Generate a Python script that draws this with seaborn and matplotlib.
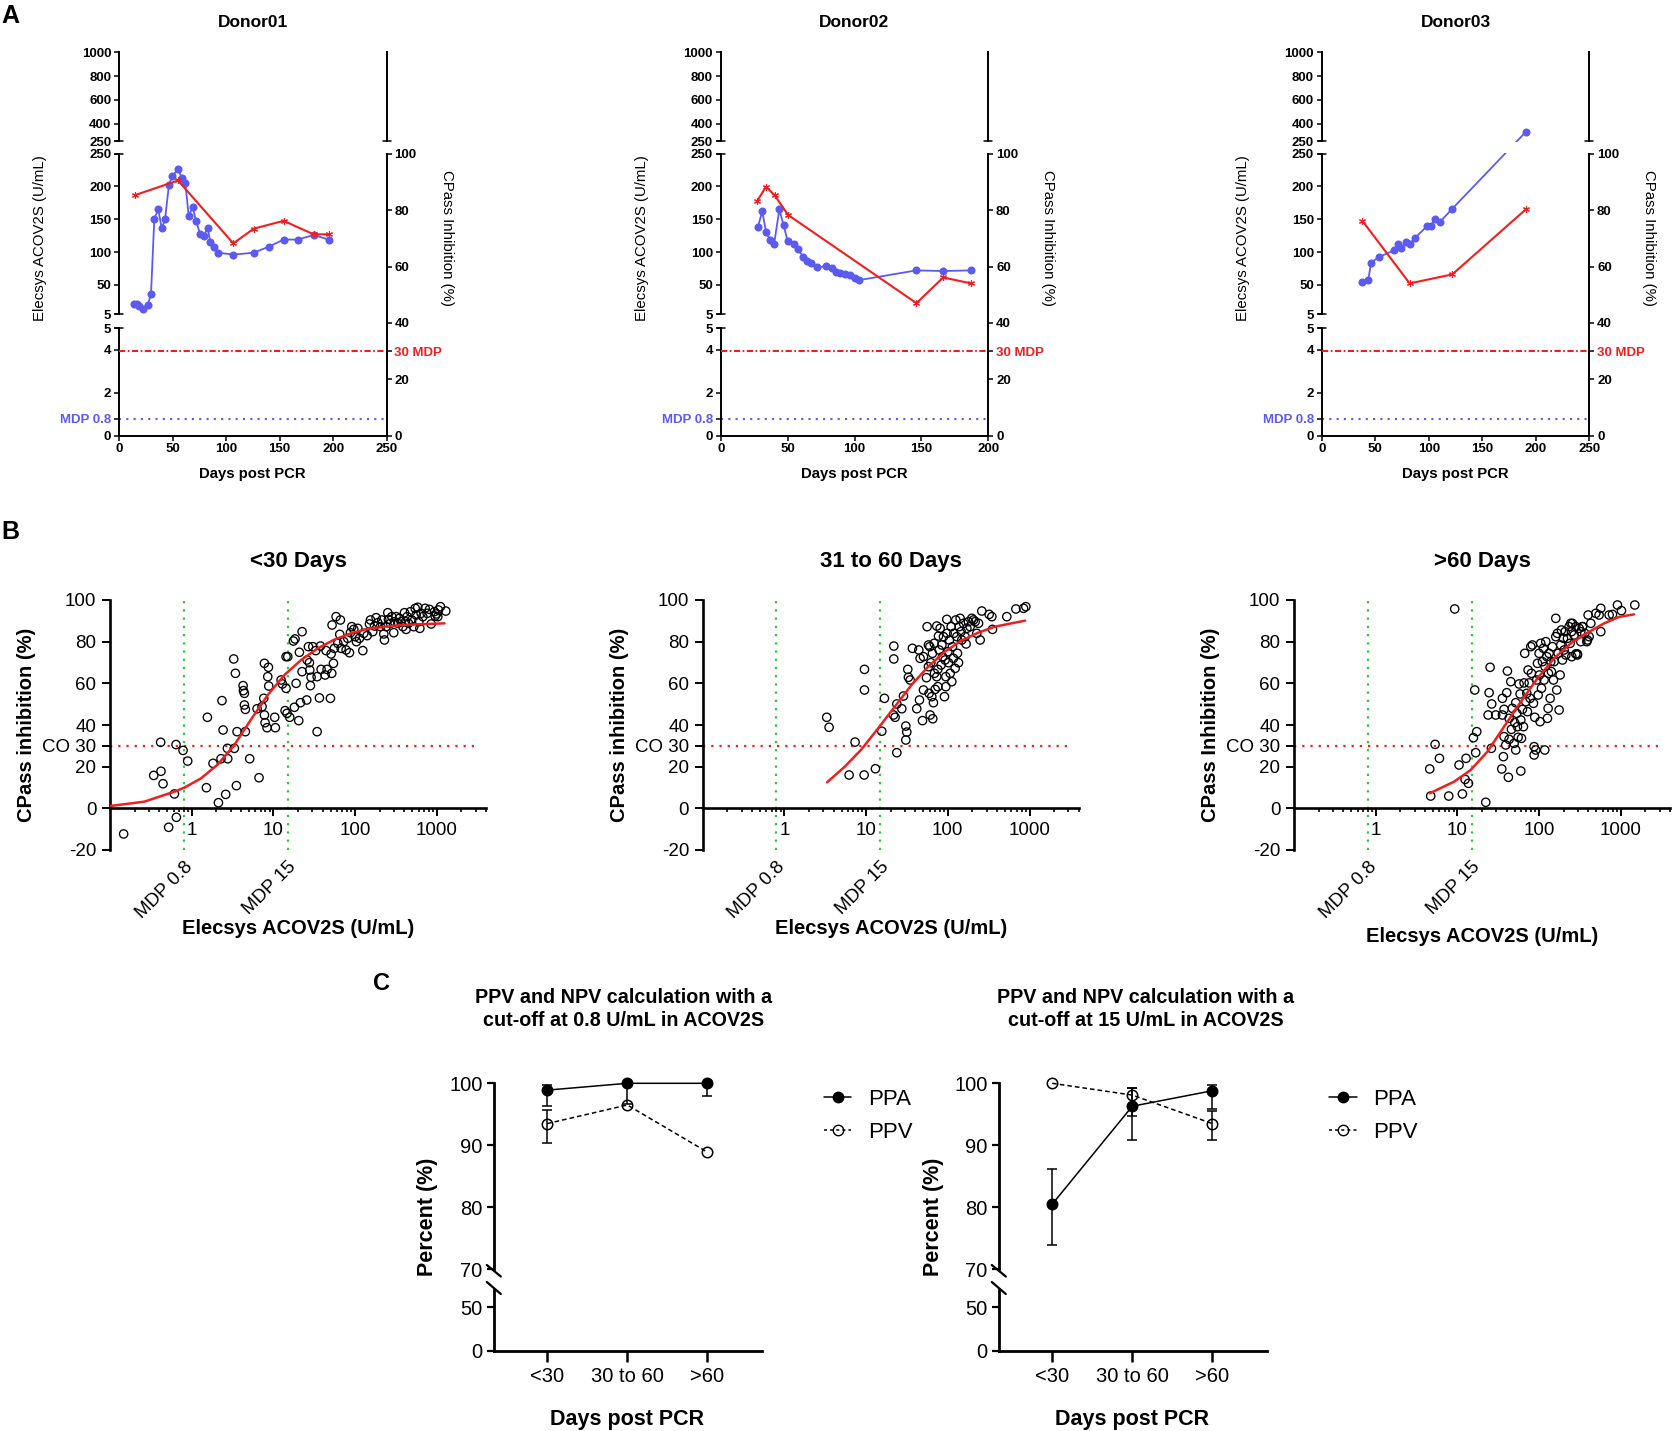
import numpy as np
import seaborn as sns
import matplotlib.pyplot as plt
from matplotlib.lines import Line2D
from matplotlib.patches import Rectangle
from matplotlib.ticker import LogLocator, NullFormatter

sns.set_theme(style="ticks", rc={"axes.edgecolor": "black", "text.color": "black",
                                 "xtick.color": "black", "ytick.color": "black",
                                 "axes.labelcolor": "black"})
plt.rcParams["font.family"] = ["Liberation Sans", "DejaVu Sans"]

W, H = 1672, 1431
BLUE = "#5b5bf2"
RED = "#f01e1e"
GREEN = "#2ec82e"

# ---------------- data: panel A (donor time courses) ----------------
donors = ["Donor01", "Donor02", "Donor03"]
a_xmax = [250, 200, 250]

d1_days = [14.3, 16.8, 19.0, 22.1, 26.8, 29.9, 33.0, 36.7, 39.9, 43.0, 46.7, 49.8, 55.1, 58.8, 62.0, 65.1,
           68.8, 71.9, 75.7, 79.1, 82.8, 85.3, 89.0, 92.8, 106.8, 125.8, 139.8, 153.8, 166.9, 181.8, 195.8]
d1_acov = [21, 20, 18, 13, 19, 36, 151, 165, 136, 150, 203, 216, 226, 213, 205, 155,
           168, 148, 128, 124, 137, 115, 108, 99, 96, 99, 108, 119, 119, 126, 119]
d1_cp_days = [14.9, 55.1, 106.8, 125.8, 153.8, 181.8, 195.8]
d1_cpass = [85.3, 90.5, 68.2, 73.4, 76.2, 71.4, 71.4]

d2_days = [27.8, 31.0, 34.0, 37.0, 40.0, 43.8, 47.0, 50.0, 55.0, 58.0, 61.8, 64.5, 67.5, 72.0, 79.0,
           83.0, 86.0, 89.0, 93.0, 97.0, 100.0, 103.0, 146.3, 166.3, 187.3]
d2_acov = [138, 162, 130, 118, 113, 165, 141, 117, 113, 104, 92, 86, 83, 77, 78,
           76, 69, 68, 67, 65, 60, 57, 72, 71, 72]
d2_cp_days = [27.3, 33.8, 40.3, 50.3, 146.3, 166.3, 187.3]
d2_cpass = [83.2, 88.3, 85.3, 78.3, 47.0, 56.1, 54.0]

d3_days = [38.0, 43.6, 46.1, 53.2, 67.9, 71.0, 74.1, 78.8, 82.5, 87.5, 98.7, 102.1, 105.9, 110.5, 122.0, 190.8]
d3_acov = [55, 58, 84, 92, 103, 112, 106, 115, 113, 122, 140, 140, 151, 146, 166, 330]
d3_cp_days = [38.0, 82.2, 122.0, 190.8]
d3_cpass = [76.2, 54.0, 57.2, 80.3]

a_top_ticks = [250, 400, 600, 800, 1000]
a_mid_ticks = [5, 50, 100, 150, 200, 250]
a_bot_ticks = [0, 0.8, 2, 4, 5]
a_bot_labels = ["0", "MDP 0.8", "2", "4", "5"]
a_right_ticks = [0, 20, 30, 40, 60, 80, 100]
a_right_labels = ["0", "20", "30 MDP", "40", "60", "80", "100"]

# ---------------- data: panel B (log10 ACOV2S U/mL, CPass %) ----------------
b_titles = ["<30 Days", "31 to 60 Days", ">60 Days"]
b_ylabels = ["CPass inhibition (%)", "CPass inhibition (%)", "CPass Inhibition (%)"]

b1_points = [
    (-0.833, -12.3), (-0.465, 15.8), (-0.376, 17.8), (-0.351, 11.8), (-0.380, 31.7), (-0.282, -9.1),
    (-0.212, 6.9), (-0.188, -4.3), (-0.192, 30.6), (-0.106, 27.8), (-0.049, 22.7), (0.180, 9.9),
    (0.192, 43.7), (0.261, 21.6), (0.327, 2.7), (0.371, 51.7), (0.384, 37.6), (0.416, 6.7),
    (0.359, 23.8), (0.437, 28.8), (0.441, 23.8), (0.514, 71.7), (0.535, 64.8), (0.547, 10.9),
    (0.555, 36.8), (0.522, 28.8), (0.629, 58.9), (0.633, 56.5), (0.645, 55.2), (0.645, 49.6),
    (0.657, 47.5), (0.657, 36.8), (0.710, 23.8), (0.800, 47.8), (0.824, 14.7), (0.890, 69.6),
    (0.939, 67.7), (0.931, 63.2), (0.943, 58.7), (0.882, 52.8), (0.861, 48.8), (0.890, 44.8),
    (0.898, 41.1), (0.922, 38.7), (1.024, 38.7), (1.016, 43.7), (1.094, 61.6), (1.110, 59.7),
    (1.155, 72.8), (1.176, 72.8), (1.155, 57.6), (1.143, 46.9), (1.167, 45.6), (1.200, 43.7),
    (1.257, 48.5), (1.245, 80.3), (1.265, 81.3), (1.318, 74.9), (1.351, 84.8), (1.278, 60.0),
    (1.310, 42.1), (1.331, 50.7), (1.408, 52.0), (1.351, 65.6), (1.412, 71.2), (1.429, 77.6),
    (1.441, 69.9), (1.461, 62.9), (1.445, 66.4), (1.453, 58.9), (1.482, 77.6), (1.518, 75.7),
    (1.535, 63.2), (1.535, 36.8), (1.563, 53.0), (1.576, 77.9), (1.584, 66.7), (1.633, 64.0),
    (1.645, 75.7), (1.657, 66.7), (1.698, 52.8), (1.706, 74.1), (1.735, 69.6), (1.718, 88.0),
    (1.747, 76.8), (1.767, 92.0), (1.788, 79.2), (1.812, 83.5), (1.820, 90.4), (1.829, 76.8),
    (1.861, 80.0), (1.890, 76.0), (1.910, 81.6), (1.931, 74.7), (1.943, 84.3), (1.959, 87.2),
    (1.984, 85.9), (2.000, 82.4), (2.016, 80.0), (2.033, 86.4), (2.053, 81.6), (2.094, 75.7),
    (2.106, 84.0), (1.714, 64.8), (2.147, 82.9), (2.176, 88.5), (2.188, 90.4), (2.216, 84.8),
    (2.237, 87.5), (2.257, 91.5), (2.278, 89.1), (2.310, 87.2), (2.327, 90.4), (2.351, 83.7),
    (2.359, 80.8), (2.380, 87.2), (2.400, 93.9), (2.408, 90.7), (2.433, 88.8), (2.449, 92.0),
    (2.473, 84.3), (2.482, 89.6), (2.502, 92.0), (2.522, 88.8), (2.543, 91.2), (2.563, 89.6),
    (2.584, 87.2), (2.604, 93.9), (2.624, 85.9), (2.637, 92.0), (2.653, 88.8), (2.678, 94.4),
    (2.694, 90.4), (2.718, 87.2), (2.735, 96.0), (2.747, 92.8), (2.767, 96.5), (2.780, 89.6),
    (2.792, 86.4), (2.808, 93.6), (2.829, 92.0), (2.857, 96.0), (2.882, 93.6), (2.910, 95.5),
    (2.931, 88.5), (2.971, 94.4), (2.996, 93.3), (3.020, 95.2), (3.045, 96.8), (3.110, 94.7),
    (3.012, 92.0), (2.980, 92.3), (2.616, 89.6),
]
b2_points = [
    (0.518, 43.7), (0.547, 38.9), (0.792, 16.0), (0.865, 31.8), (0.976, 16.0), (0.980, 66.7),
    (0.980, 56.8), (1.114, 19.0), (1.192, 37.0), (1.224, 52.8), (1.339, 77.9), (1.339, 71.7),
    (1.335, 44.8), (1.355, 43.7), (1.376, 26.7), (1.376, 50.1), (1.437, 47.8), (1.457, 53.9),
    (1.486, 39.5), (1.498, 36.6), (1.486, 32.8), (1.510, 66.7), (1.518, 62.9), (1.539, 61.6),
    (1.567, 76.8), (1.620, 47.8), (1.645, 76.0), (1.653, 52.0), (1.661, 72.0), (1.690, 42.1),
    (1.702, 56.8), (1.702, 72.8), (1.739, 62.7), (1.747, 87.2), (1.763, 78.4), (1.771, 55.2),
    (1.780, 77.6), (1.784, 44.8), (1.792, 69.9), (1.804, 53.6), (1.812, 74.4), (1.816, 43.0),
    (1.824, 50.7), (1.833, 79.2), (1.845, 57.1), (1.865, 87.5), (1.865, 63.2), (1.878, 66.7),
    (1.886, 82.7), (1.894, 76.0), (1.906, 86.4), (1.918, 68.8), (1.927, 78.4), (1.935, 72.8),
    (1.947, 82.4), (1.959, 53.6), (1.967, 71.2), (1.976, 63.2), (1.988, 90.7), (1.992, 84.0),
    (2.000, 75.2), (2.008, 69.9), (2.020, 80.8), (2.029, 64.8), (2.041, 87.2), (2.049, 60.8),
    (2.057, 77.6), (2.069, 72.0), (2.073, 84.0), (2.090, 67.2), (2.098, 90.4), (2.110, 82.4),
    (2.118, 74.4), (2.131, 69.9), (2.139, 87.2), (2.151, 91.2), (2.163, 84.8), (2.171, 80.8),
    (2.192, 88.8), (2.212, 82.4), (2.224, 78.9), (2.233, 86.4), (2.253, 89.6), (2.273, 87.2),
    (2.294, 91.2), (2.314, 90.4), (2.335, 89.6), (2.355, 84.0), (2.376, 88.8), (2.396, 80.8),
    (2.416, 94.7), (2.506, 93.1), (2.539, 92.0), (2.547, 85.9), (2.722, 92.0), (2.833, 95.7),
    (2.927, 96.0), (2.955, 96.8), (1.837, 64.8), (1.878, 58.4), (1.763, 68.0), (1.976, 58.4),
]
b3_points = [
    (0.967, 95.7), (0.661, 18.9), (0.673, 5.9), (0.727, 30.7), (0.780, 24.0), (0.894, 5.9),
    (1.020, 20.8), (1.061, 6.9), (1.094, 13.9), (1.106, 24.0), (1.135, 12.0), (1.196, 33.9),
    (1.224, 26.7), (1.237, 36.8), (1.212, 56.8), (1.347, 2.9), (1.400, 67.7), (1.388, 55.5),
    (1.376, 44.8), (1.416, 28.8), (1.420, 50.1), (1.469, 44.8), (1.543, 18.9), (1.551, 52.8),
    (1.551, 44.8), (1.563, 24.8), (1.571, 34.4), (1.571, 47.5), (1.592, 30.4), (1.604, 55.5),
    (1.612, 65.9), (1.624, 14.9), (1.633, 43.2), (1.633, 33.1), (1.653, 60.8), (1.661, 37.9),
    (1.673, 48.0), (1.694, 31.2), (1.702, 41.1), (1.714, 28.0), (1.714, 50.7), (1.727, 45.6),
    (1.735, 39.2), (1.743, 34.1), (1.755, 59.7), (1.767, 54.9), (1.776, 42.4), (1.776, 17.9),
    (1.784, 33.6), (1.796, 47.5), (1.808, 39.2), (1.816, 60.2), (1.824, 74.4), (1.837, 51.2),
    (1.849, 55.2), (1.857, 46.4), (1.865, 66.4), (1.878, 60.2), (1.890, 52.8), (1.898, 77.6),
    (1.906, 64.8), (1.918, 78.4), (1.931, 50.4), (1.939, 29.6), (1.939, 25.6), (1.947, 43.7),
    (1.959, 28.0), (1.971, 61.6), (1.980, 69.6), (1.988, 54.4), (2.000, 74.4), (2.004, 64.0),
    (2.012, 41.6), (2.020, 79.2), (2.029, 57.6), (2.041, 70.4), (2.053, 76.8), (2.061, 61.6),
    (2.069, 28.0), (2.073, 68.0), (2.082, 80.0), (2.094, 72.8), (2.102, 43.2), (2.110, 48.0),
    (2.114, 64.8), (2.122, 74.4), (2.135, 52.8), (2.143, 70.4), (2.151, 65.6), (2.163, 77.6),
    (2.176, 61.6), (2.184, 70.4), (2.204, 91.2), (2.204, 82.4), (2.216, 56.8), (2.224, 84.0),
    (2.233, 74.4), (2.245, 47.2), (2.257, 64.0), (2.265, 78.4), (2.273, 85.6), (2.286, 71.2),
    (2.298, 81.6), (2.306, 76.0), (2.318, 84.8), (2.327, 73.6), (2.347, 81.6), (2.367, 87.2),
    (2.380, 79.2), (2.396, 84.8), (2.408, 88.8), (2.429, 83.2), (2.449, 87.2), (2.469, 74.1),
    (2.490, 86.4), (2.510, 80.0), (2.531, 87.2), (2.559, 84.0), (2.584, 80.0), (2.600, 92.8),
    (2.734, 92.8), (2.755, 96.0), (2.694, 93.6), (2.857, 92.8), (2.898, 93.1), (2.959, 97.6),
    (3.008, 94.9), (3.171, 97.6), (2.755, 84.8), (2.633, 88.8), (2.612, 82.4), (2.592, 80.8),
    (2.510, 84.8), (2.531, 87.2), (2.469, 73.6), (2.449, 74.1), (2.400, 72.8), (2.388, 88.8),
]
b_points = [b1_points, b2_points, b3_points]

# fitted curves (log10 U/mL, CPass %)
b1_fit_lx = [-1.0, -0.58, -0.212, -0.086, 0.114, 0.318, 0.522, 0.727, 0.931, 1.135, 1.339, 1.543,
             1.747, 1.951, 2.155, 2.563, 3.094]
b1_fit_y = [1.1, 3.2, 8.0, 10.0, 14.4, 21.0, 30.4, 42.7, 54.4, 64.0, 71.2, 76.8,
            81.0, 84.0, 86.2, 88.0, 88.8]
b2_fit_lx = [0.522, 0.739, 0.943, 1.147, 1.351, 1.555, 1.759, 1.963, 2.167, 2.371, 2.576, 2.946]
b2_fit_y = [12.5, 20.0, 28.3, 38.4, 48.8, 59.2, 68.0, 75.2, 80.5, 84.3, 87.2, 90.1]
b3_fit_lx = [0.661, 0.959, 1.163, 1.367, 1.571, 1.776, 1.980, 2.184, 2.388, 2.592, 2.796, 2.980, 3.163]
b3_fit_y = [7.2, 12.8, 18.4, 27.2, 39.2, 51.2, 62.4, 72.0, 79.2, 84.3, 88.8, 91.9, 93.1]
b_fits = [(b1_fit_lx, b1_fit_y), (b2_fit_lx, b2_fit_y), (b3_fit_lx, b3_fit_y)]

co_cpass = 30
mdp_low, mdp_high = 0.8, 15
b_yticks = [-20, 0, 20, 30, 40, 60, 80, 100]
b_yticklabels = ["-20", "0", "20", "CO 30", "40", "60", "80", "100"]

# ---------------- data: panel C ----------------
c_categories = ["<30", "30 to 60", ">60"]
c_titles = ["PPV and NPV calculation with a\ncut-off at 0.8 U/mL in ACOV2S",
            "PPV and NPV calculation with a\ncut-off at 15 U/mL in ACOV2S"]
c1_ppa = [98.9, 100.0, 100.0]
c1_ppa_lo = [2.6, 3.4, 2.0]
c1_ppa_hi = [0.9, 0.0, 0.0]
c1_ppv = [93.5, 96.5, 88.9]
c1_ppv_lo = [3.2, 0.0, 0.0]
c1_ppv_hi = [2.2, 0.0, 0.0]
c2_ppa = [80.5, 96.3, 98.8]
c2_ppa_lo = [6.6, 5.4, 2.9]
c2_ppa_hi = [5.6, 2.9, 1.0]
c2_ppv = [100.0, 98.1, 93.5]
c2_ppv_lo = [0.0, 3.3, 2.7]
c2_ppv_hi = [0.0, 1.1, 2.0]

fig = plt.figure(figsize=(W / 100, H / 100), dpi=100)


def px_axes(left, top, right, bottom):
    return fig.add_axes([left / W, 1 - bottom / H, (right - left) / W, (bottom - top) / H])


def ftext(x, y, s, **kw):
    kw.setdefault("ha", "center")
    kw.setdefault("va", "center")
    return fig.text(x / W, 1 - y / H, s, **kw)


def fline(x0, y0, x1, y1, **kw):
    fig.add_artist(Line2D([x0 / W, x1 / W], [1 - y0 / H, 1 - y1 / H], transform=fig.transFigure, **kw))


# ================= A =================
A_W = 267.6
a_left = [119.0, 720.7, 1321.7]
TOP_T, TOP_B, MID_T, MID_B, BOT_T, BOT_B = 52.3, 141.3, 153.7, 314.3, 328.3, 435.7


def brk_fwd(v):
    v = np.asarray(v, dtype=float)
    low = v * (BOT_B - BOT_T) / 5
    mid = (BOT_B - MID_B) + (v - 5) * (MID_B - MID_T) / 245
    high = (BOT_B - TOP_B) + (v - 250) * (TOP_B - TOP_T) / 750
    return np.where(v <= 5, low, np.where(v <= 250, mid, high))


def brk_inv(p):
    p = np.asarray(p, dtype=float)
    low = p * 5 / (BOT_B - BOT_T)
    mid = 5 + (p - (BOT_B - MID_B)) * 245 / (MID_B - MID_T)
    high = 250 + (p - (BOT_B - TOP_B)) * 750 / (TOP_B - TOP_T)
    return np.where(p <= BOT_B - BOT_T, low, np.where(p <= BOT_B - MID_T, mid, high))


a_blue = [(d1_days, d1_acov), (d2_days, d2_acov), (d3_days, d3_acov)]
a_red = [(d1_cp_days, d1_cpass), (d2_cp_days, d2_cpass), (d3_cp_days, d3_cpass)]
bold = dict(fontweight="bold")

for i in range(3):
    left = a_left[i]
    right = left + A_W
    xmax = a_xmax[i]

    ax_t = px_axes(left, TOP_T, right, TOP_B)
    ax_m = px_axes(left, MID_T, right, MID_B)
    ax_b = px_axes(left, BOT_T, right, BOT_B)
    for ax in (ax_t, ax_m, ax_b):
        ax.set_facecolor("none")
        ax.set_xlim(0, xmax)
        ax.spines["top"].set_visible(False)
        ax.spines["right"].set_visible(False)
        for sp in ax.spines.values():
            sp.set_linewidth(1.4)
        ax.tick_params(length=3.6, width=1.1, pad=2, labelsize=9.5, right=False, top=False)
    ax_t.spines["bottom"].set_visible(False)
    ax_m.spines["bottom"].set_visible(False)
    ax_t.spines["right"].set_visible(True)
    ax_t.tick_params(bottom=False, labelbottom=False)
    ax_m.tick_params(bottom=False, labelbottom=False)
    ax_t.set_ylim(250, 1000)
    ax_t.set_yticks(a_top_ticks, [str(t) for t in a_top_ticks], **bold)
    ax_m.set_ylim(5, 250)
    ax_m.set_yticks(a_mid_ticks, [str(t) for t in a_mid_ticks], **bold)
    ax_b.set_ylim(0, 5)
    ax_b.set_yticks(a_bot_ticks, a_bot_labels, **bold)
    ax_b.get_yticklabels()[1].set_color(BLUE)
    xt = list(range(0, xmax + 1, 50))
    ax_b.set_xticks(xt, [str(t) for t in xt], **bold)
    ax_b.axhline(mdp_low, color=BLUE, ls=(0, (1, 2.5)), lw=1.5)

    c = 4 / A_W
    for ax, ys in ((ax_t, [0]), (ax_m, [0, 1]), (ax_b, [1])):
        for yy in ys:
            ax.plot([-c, c], [yy, yy], transform=ax.transAxes, color="black", lw=1.1, clip_on=False)
    ax_t.plot([1 - c, 1 + c], [0, 0], transform=ax_t.transAxes, color="black", lw=1.1, clip_on=False)

    # antibody values on a hidden axis carrying the broken scale
    ax_d = px_axes(left, TOP_T, right, BOT_B)
    days, vals = a_blue[i]
    sns.lineplot(x=days, y=vals, ax=ax_d, color=BLUE, marker="o", markersize=5.8, mew=0, lw=1.3,
                 estimator=None, sort=False, zorder=3)
    ax_d.set_yscale("function", functions=(brk_fwd, brk_inv))
    ax_d.set_ylim(0, 1000)
    ax_d.set_xlim(0, xmax)
    ax_d.axis("off")

    fig.add_artist(Rectangle(((left + 1.5) / W, 1 - (MID_T - 1) / H), (A_W - 3) / W,
                             (MID_T - TOP_B - 2) / H, transform=fig.transFigure,
                             fc="white", ec="none", zorder=1))

    # CPass on the right axis
    ax_r = px_axes(left, MID_T, right, BOT_B)
    ax_r.patch.set_visible(False)
    cd, cv = a_red[i]
    sns.lineplot(x=cd, y=cv, ax=ax_r, color=RED, marker=(6, 2, 0), markersize=5, mec=RED, mew=0.8,
                 lw=1.5, estimator=None, sort=False, zorder=4)
    ax_r.axhline(co_cpass, color=RED, ls=(0, (3, 1.2, 0.8, 1.2)), lw=1.5)
    for s in ["top", "left", "bottom"]:
        ax_r.spines[s].set_visible(False)
    ax_r.spines["right"].set_visible(True)
    ax_r.spines["right"].set_linewidth(1.4)
    ax_r.yaxis.tick_right()
    ax_r.set_ylim(0, 100)
    ax_r.set_xlim(0, xmax)
    ax_r.tick_params(axis="y", length=3.6, width=1.1, pad=2, labelsize=9.5, left=False)
    ax_r.tick_params(axis="x", bottom=False, labelbottom=False)
    ax_r.set_yticks(a_right_ticks, a_right_labels, **bold)
    ax_r.get_yticklabels()[2].set_color(RED)
    ax_r.set_xlabel("")
    ax_r.set_ylabel("")

    ftext(left + A_W / 2, 22.7, donors[i], fontsize=12.5, fontweight="bold")
    ftext(left - 79, 238, "Elecsys ACOV2S (U/mL)", rotation=90, fontsize=10.8)
    ftext(right + 60, 238, "CPass Inhibition (%)", rotation=-90, fontsize=10.8)
    ftext(left + A_W / 2, 474, "Days post PCR", fontsize=10.7, fontweight="bold")

ftext(10, 16, "A", fontsize=18, fontweight="bold")

# ================= B =================
B_W = 376
b_left = [110.0, 702.7, 1294.0]
b_xlab_y = [928, 928, 936]
for i in range(3):
    left = b_left[i]
    ax = px_axes(left, 600, left + B_W, 850)
    ax.set_facecolor("none")
    ax.set_xscale("log")
    lx, yv = zip(*b_points[i])
    sns.scatterplot(x=np.power(10.0, lx), y=yv, ax=ax, s=36, marker="o", color="black",
                    facecolor="none", edgecolor="black", linewidth=0.95, zorder=3)
    flx, fy = b_fits[i]
    sns.lineplot(x=np.power(10.0, flx), y=fy, ax=ax, color=RED, lw=1.8, estimator=None, sort=False, zorder=4)
    ax.hlines(co_cpass, 0.1, 3300, colors=RED, linestyles=[(0, (1, 2.7))], lw=1.6, zorder=2)
    for v in (mdp_low, mdp_high):
        ax.axvline(v, color=GREEN, ls=(0, (1, 2.7)), lw=1.6, zorder=2)
    ax.set_xlim(0.1, 4000)
    ax.set_ylim(-20, 100)
    ax.spines["bottom"].set_position(("data", 0))
    ax.spines["top"].set_visible(False)
    ax.spines["right"].set_visible(False)
    ax.spines["left"].set_linewidth(1.9)
    ax.spines["bottom"].set_linewidth(1.9)
    ax.set_xticks([1, 10, 100, 1000], ["1", "10", "100", "1000"])
    ax.xaxis.set_minor_locator(LogLocator(base=10, subs=np.arange(2, 10), numticks=30))
    ax.xaxis.set_minor_formatter(NullFormatter())
    ax.set_yticks(b_yticks, b_yticklabels)
    ax.tick_params(axis="both", which="major", length=5.8, width=1.4, labelsize=13.5, pad=4)
    ax.tick_params(axis="x", which="minor", length=3.2, width=1.2)
    ax.set_xlabel("")
    ax.set_ylabel("")
    ax.text(mdp_low, -24, "MDP 0.8", rotation=45, ha="right", va="top", rotation_mode="anchor", fontsize=13.5)
    ax.text(mdp_high, -24, "MDP 15", rotation=45, ha="right", va="top", rotation_mode="anchor", fontsize=13.5)

    ftext(left + B_W / 2, 562, b_titles[i], fontsize=16, fontweight="bold")
    ftext(left - 83, 725, b_ylabels[i], rotation=90, fontsize=14.5, fontweight="bold")
    ftext(left + B_W / 2, b_xlab_y[i], "Elecsys ACOV2S (U/mL)", fontsize=14.5, fontweight="bold")

ftext(10, 532, "B", fontsize=18, fontweight="bold")

# ================= C =================
C_W = 268
c_left = [493.8, 998.8]
c_pos = np.arange(len(c_categories))
c_sets = [(c1_ppa, c1_ppa_lo, c1_ppa_hi, c1_ppv, c1_ppv_lo, c1_ppv_hi),
          (c2_ppa, c2_ppa_lo, c2_ppa_hi, c2_ppv, c2_ppv_lo, c2_ppv_hi)]
c_legend_x = [823.7, 1329.0]
c_title_x = [624.0, 1146.0]
c_ylab_x = [427.8, 933.9]
c_xlab_x = [627.5, 1131.9]

for j in range(2):
    left = c_left[j]
    right = left + C_W
    ppa, ppa_lo, ppa_hi, ppv, ppv_lo, ppv_hi = c_sets[j]

    ax_u = px_axes(left, 1083.3, right, 1269.3)
    ax_l = px_axes(left, 1290.0, right, 1350.7)
    for ax in (ax_u, ax_l):
        ax.set_facecolor("none")
        ax.set_xlim(-0.667, 2.68)
        ax.spines["top"].set_visible(False)
        ax.spines["right"].set_visible(False)
        for sp in ax.spines.values():
            sp.set_linewidth(2.0)
        ax.tick_params(axis="y", length=5, width=1.6, labelsize=14.5, pad=3)
    ax_u.spines["bottom"].set_visible(False)
    ax_u.tick_params(axis="x", bottom=False, labelbottom=False)

    for vals, lo, hi, ls, mfc in ((ppa, ppa_lo, ppa_hi, "-", "black"),
                                   (ppv, ppv_lo, ppv_hi, (0, (3, 2)), "none")):
        sns.lineplot(x=c_pos, y=vals, ax=ax_u, color="black", marker="o", markersize=7.5, mfc=mfc, mec="black",
                     mew=1.1, lw=1.1, linestyle=ls, estimator=None, sort=False, clip_on=False, zorder=3)
        lo = np.asarray(lo)
        hi = np.asarray(hi)
        has = (lo + hi) > 0
        ax_u.errorbar(c_pos[has], np.asarray(vals)[has], yerr=[lo[has], hi[has]], fmt="none", ecolor="black",
                      elinewidth=1.1, capsize=3.6, capthick=1.1, zorder=2)

    ax_u.set_ylim(70, 100)
    ax_u.set_yticks([70, 80, 90, 100])
    ax_l.set_ylim(0, 70)
    ax_l.set_yticks([0, 50])
    ax_l.set_xticks(c_pos, c_categories)
    ax_l.tick_params(axis="x", length=8, width=1.8, labelsize=14.5, pad=4)
    for ax in (ax_u, ax_l):
        ax.set_xlabel("")
        ax.set_ylabel("")

    # axis break marks
    fline(left - 7, 1265, left + 7, 1276.5, color="black", lw=1.6)
    fline(left - 7, 1282, left + 7, 1294, color="black", lw=1.6)

    handles = [Line2D([], [], color="black", marker="o", markersize=7.5, lw=1.1),
               Line2D([], [], color="black", marker="o", markersize=7.5, mfc="none", lw=1.1, ls=(0, (2, 2)))]
    fig.legend(handles, ["PPA", "PPV"], loc="upper left",
               bbox_to_anchor=(c_legend_x[j] / W, 1 - 1089 / H), bbox_transform=fig.transFigure,
               frameon=False, borderpad=0, borderaxespad=0, handlelength=1.25, handletextpad=0.75,
               labelspacing=0.55, fontsize=16)

    ftext(c_title_x[j], 1009, c_titles[j], fontsize=14.2, fontweight="bold", linespacing=1.3)
    ftext(c_ylab_x[j], 1217, "Percent (%)", rotation=90, fontsize=15.5, fontweight="bold")
    ftext(c_xlab_x[j], 1420, "Days post PCR", fontsize=15.5, fontweight="bold")

ftext(381, 983, "C", fontsize=17, fontweight="bold")

fig.savefig("out.png", dpi=100)
